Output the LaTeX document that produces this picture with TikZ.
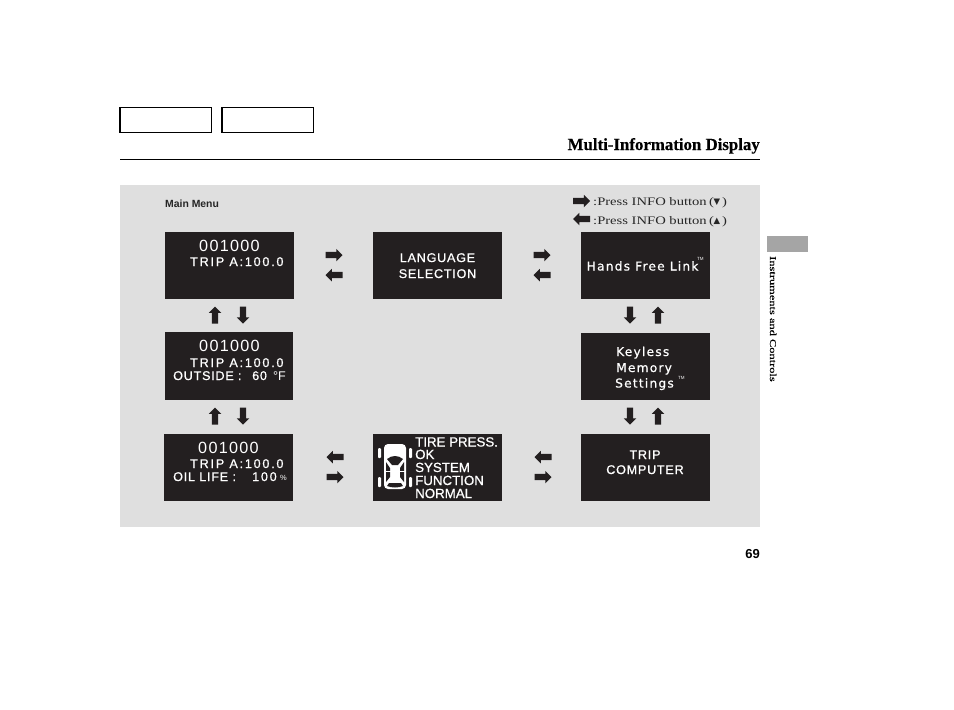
\documentclass[tikz,border=0pt]{standalone}
\usepackage{fontspec}
\setmainfont{Liberation Serif}
\newfontfamily\lcdfont{DejaVu Sans}[LetterSpace=10,FakeBold=0.8]
\newfontfamily\lcdcap{Liberation Sans}[LetterSpace=6,FakeBold=0.8]
\newfontfamily\lcdtrip{Liberation Sans}[LetterSpace=14,FakeBold=0.8]
\newfontfamily\lcdtire{Liberation Sans}[FakeBold=0.8]
\newfontfamily\lcdnumf{Liberation Sans}[LetterSpace=8]
\newfontfamily\hv{Liberation Sans}
\newfontfamily\sym{DejaVu Sans}
\newfontfamily\wideserif{Liberation Serif}[FakeStretch=1.27]
\newfontfamily\sideserif{Liberation Serif}[FakeStretch=1.38,FakeBold=0.3]
\newfontfamily\titleserif{Liberation Serif}[FakeStretch=0.99,FakeBold=0.2]
\usetikzlibrary{shapes.arrows}
\definecolor{panel}{HTML}{DFDFDF}
\definecolor{lcd}{HTML}{231F20}
\definecolor{tabgray}{HTML}{A5A5A5}
\tikzset{
  x=1pt,y=-1pt,
  lcdbox/.style={fill=lcd,draw=none,inner sep=0pt,outer sep=0pt,anchor=north west},
  lcdtext/.style={text=white,inner sep=0pt,font=\lcdcap\fontsize{12.6}{13}\selectfont,anchor=base},
  triptext/.style={text=white,inner sep=0pt,font=\lcdtrip\fontsize{12.6}{13}\selectfont,anchor=base west},
  tiretext/.style={text=white,inner sep=0pt,font=\lcdtire\fontsize{13.3}{14}\selectfont,anchor=base west},
  lcdnum/.style={text=white,inner sep=0pt,font=\lcdnumf\fontsize{16.2}{17}\selectfont,anchor=base},
  lcdmixed/.style={text=white,inner sep=0pt,font=\lcdfont\fontsize{12.2}{13}\selectfont,anchor=base west},
  tmtext/.style={text=white,inner sep=0pt,font=\hv\fontsize{4.5}{5}\selectfont,anchor=base west},
  barrow/.style={single arrow,fill=lcd,draw=none,inner sep=3pt,outer sep=0pt,minimum height=17pt,minimum width=12.5pt,single arrow head extend=3pt,single arrow head indent=0pt,shape border rotate=#1,anchor=tip},
  tabbox/.style={draw=black,line width=1.2pt,fill=white,inner sep=0pt,outer sep=0pt,anchor=north west,minimum width=91.5pt,minimum height=25pt},
  legend/.style={inner sep=0pt,anchor=base west,font=\wideserif\fontsize{11.5}{12}\selectfont,text=black!85},
  legsym/.style={inner sep=0pt,anchor=base west,font=\sym\fontsize{8.5}{10}\selectfont,text=black!85},
}
\begin{document}
\begin{tikzpicture}
\useasboundingbox (0,0) rectangle (954,710);
\fill[white] (0,0) rectangle (954,710);
\node[tabbox] (tabone) at (120,107.5) {};
\node[tabbox] (tabtwo) at (222,107.5) {};
\node[anchor=base east,inner sep=0pt,font=\titleserif\bfseries\fontsize{17}{18}\selectfont] (title) at (760,150) {Multi-Information Display};
\draw[line width=1pt] (120,159.7) -- (760,159.7);
\fill[panel] (120,185) rectangle (760,527);
\fill[tabgray] (767,236) rectangle (808,252);
\node[rotate=-90,anchor=base west,inner sep=0pt,font=\sideserif\fontsize{9}{10}\selectfont] (side) at (770,256) {Instruments and Controls};
\node[anchor=base east,inner sep=0pt,font=\hv\bfseries\fontsize{13}{14}\selectfont] (pageno) at (760,558) {69};
\node[anchor=base west,inner sep=0pt,font=\hv\bfseries\fontsize{10.4}{11}\selectfont,text=black!85] (mainmenu) at (165,207) {Main Menu};
% legend
\node[barrow=0] (lega) at (590,201) {};
\node[legend] (legatext) at (593,205) {:Press INFO button};
\node[legend] (legaopen) at (709,205) {(};
\node[legsym] (legasym) at (713.5,204.5) {▼};
\node[legend] (legaclose) at (722,205) {)};
\node[barrow=180] (legb) at (573,219) {};
\node[legend] (legbtext) at (593,224) {:Press INFO button};
\node[legend] (legbopen) at (709,224) {(};
\node[legsym] (legbsym) at (713.5,223.5) {▲};
\node[legend] (legbclose) at (722,224) {)};
% boxes
\node[lcdbox,minimum width=129pt,minimum height=67pt] (a) at (165,232) {};
\node[lcdbox,minimum width=129pt,minimum height=67pt] (b) at (373,232) {};
\node[lcdbox,minimum width=129pt,minimum height=67pt] (c) at (581,232) {};
\node[lcdbox,minimum width=128pt,minimum height=68pt] (d) at (165,332) {};
\node[lcdbox,minimum width=129pt,minimum height=67pt] (e) at (581,333) {};
\node[lcdbox,minimum width=129pt,minimum height=67pt] (f) at (164,434) {};
\node[lcdbox,minimum width=129pt,minimum height=67pt] (g) at (373,434) {};
\node[lcdbox,minimum width=129pt,minimum height=67pt] (h) at (581,434) {};
% box texts
\node[lcdnum] (a1) at (229.5,251) {001000};
\node[triptext] (a2) at (190,266) {TRIP A:100.0};
\node[lcdtext] (b1) at (437.5,262) {LANGUAGE};
\node[lcdtext] (b2) at (437.5,278) {SELECTION};
\node[lcdmixed] (c1) at (586.5,270.5) {Hands Free Link};
\node[tmtext] (c2) at (697,260.5) {TM};
\node[lcdnum] (d1) at (229.5,351) {001000};
\node[triptext] (d2) at (190,367) {TRIP A:100.0};
\node[lcdtext,anchor=base west] (d3) at (173,380) {OUTSIDE :};
\node[lcdtext,anchor=base west] (d3b) at (252,380) {60};
\node[text=white,inner sep=0pt,font=\hv\fontsize{12.6}{13}\selectfont,anchor=base west] (d3c) at (273,380) {°F};
\node[lcdmixed] (e1) at (616,356) {Keyless};
\node[lcdmixed] (e2) at (616,372) {Memory};
\node[lcdmixed] (e3) at (615,387.5) {Settings};
\node[tmtext] (e4) at (678,379.5) {TM};
\node[lcdnum] (f1) at (228.5,453) {001000};
\node[triptext] (f2) at (190,468) {TRIP A:100.0};
\node[lcdtext,anchor=base west] (f3) at (173,481) {OIL LIFE :};
\node[triptext] (f3b) at (252,481) {100};
\node[text=white,inner sep=0pt,font=\hv\fontsize{7.5}{8}\selectfont,anchor=base west] (f4) at (280,480.5) {\%};
\node[lcdtext] (h1) at (645,459) {TRIP};
\node[lcdtext] (h2) at (645,474) {COMPUTER};
\node[tiretext] (g1) at (415,446.5) {TIRE PRESS.};
\node[tiretext] (g2) at (415,459) {OK};
\node[tiretext] (g3) at (415,472) {SYSTEM};
\node[tiretext] (g4) at (415,485) {FUNCTION};
\node[tiretext] (g5) at (415,498) {NORMAL};
% car icon
\fill[white,rounded corners=4pt] (384,444) rectangle (406,489);
\foreach \wx in {378,409}{
  \fill[white,rounded corners=1pt] (\wx,448) rectangle ++(3,10);
  \fill[white,rounded corners=1pt] (\wx,477) rectangle ++(3,10);
}
\fill[lcd] (387,459) .. controls (392,455) and (398,455) .. (403,459) -- (398,465) -- (392,465) -- cycle;
\fill[lcd] (389,483) -- (401,483) -- (403,486) .. controls (398,488) and (392,488) .. (387,486) -- cycle;
\fill[lcd] (386,462) -- (390,468) -- (390,477) -- (386,482) -- cycle;
\fill[lcd] (404,462) -- (400,468) -- (400,477) -- (404,482) -- cycle;
\fill[white] (385,471) rectangle (390.5,472.2);
\fill[white] (399.5,471) rectangle (405,472.2);
% arrows between boxes
\node[barrow=0] (r1) at (342.5,255) {};
\node[barrow=180] (l1) at (325.5,275) {};
\node[barrow=0] (r2) at (550.5,255) {};
\node[barrow=180] (l2) at (533.5,275) {};
\node[barrow=90] (u1) at (215,306.5) {};
\node[barrow=270] (d4) at (243,323.5) {};
\node[barrow=270] (d5) at (630,323.5) {};
\node[barrow=90] (u2) at (658,306.5) {};
\node[barrow=90] (u3) at (215,407.5) {};
\node[barrow=270] (d6) at (243,424.5) {};
\node[barrow=270] (d7) at (630,424.5) {};
\node[barrow=90] (u4) at (658,407.5) {};
\node[barrow=180] (l3) at (326.5,457) {};
\node[barrow=0] (r3) at (343.5,477) {};
\node[barrow=180] (l4) at (534.5,457) {};
\node[barrow=0] (r4) at (551.5,477) {};
\end{tikzpicture}
\end{document}
